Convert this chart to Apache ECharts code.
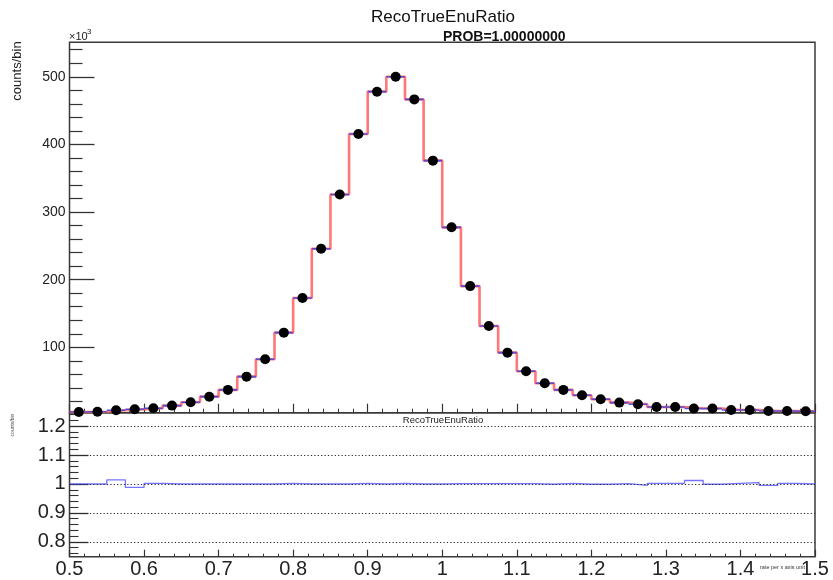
<!DOCTYPE html>
<html><head><meta charset="utf-8">
<script src="https://cdn.jsdelivr.net/npm/echarts@6/dist/echarts.min.js"></script>
<style>html,body{margin:0;padding:0;background:#fff}#c{width:833px;height:580px}</style>
</head><body><div id="c"></div><script>
// ---- data ----
const binStart = 0.5;
const binWidth = 0.025;
// counts per bin, in units of 10^3
const counts = [4.4,4.6,6.9,8.4,9.9,13.8,18.7,27,37,56.6,82.3,121.7,173,245.8,326,415.4,478,500,466.6,376,
                277.4,190.5,131.6,92.1,64.6,46.8,37,29.1,23.2,18.2,15.8,11.8,11.8,9.4,9.4,7.4,7.4,5.9,5.9,5.5];
// ratio per bin
const ratio = [1.0,1.0,1.014,0.988,1.002,1.0,1.0,1.0,1.0,1.0,1.0,1.002,1.0,1.0,1.0,1.002,1.0,1.002,1.0,1.0,
               1.001,1.001,1.001,1.001,1.001,0.999,1.002,0.999,0.999,1.001,0.995,1.002,1.002,1.012,0.999,1.002,1.005,0.995,1.002,1.0];
const topMajorTicks = [100,200,300,400,500];
const ratioMajorTicks = [0.8,0.9,1,1.1,1.2];
const ratioGridLines = [0.8,0.9,1,1.1,1.2];

const FONT = '"Liberation Sans", Arial, Helvetica, sans-serif';
const edges = counts.map((v,i)=>+(binStart + i*binWidth).toFixed(4));
const lastEdge = +(binStart + counts.length*binWidth).toFixed(4);
const stepData = counts.map((v,i)=>[edges[i], v]).concat([[lastEdge, counts[counts.length-1]]]);
const segData = counts.map((v,i)=>[edges[i], +(edges[i]+binWidth).toFixed(4), v]);
const dotData = counts.map((v,i)=>[+(edges[i]+binWidth/2).toFixed(4), v]);
const ratioStep = ratio.map((v,i)=>[edges[i], v]).concat([[lastEdge, ratio[ratio.length-1]]]);

const topMinor = [];
for (let v = 20; v <= 550; v += 20) if (v % 100 !== 0) topMinor.push(v);
const ratioMinor = [];
for (let k = 76; k <= 124; k += 2) if (k % 10 !== 0) ratioMinor.push(k/100);

const chart = echarts.init(document.getElementById('c'), null, {renderer:'canvas'});
const axisCol = '#333';
const L = 69.5, W = 745.5;
chart.setOption({
  animation:false,
  backgroundColor:'#fff',
  grid:[
    {left:L, top:42.3, width:W, height:370.4, show:true, borderColor:'#3a3a3a', borderWidth:1.5, backgroundColor:'transparent'},
    {left:L, top:412.7, width:W, height:144, show:true, borderColor:'#3a3a3a', borderWidth:1.5, backgroundColor:'transparent'}
  ],
  xAxis:[
    {gridIndex:0, type:'value', min:0.5, max:1.5, interval:0.1,
     axisLine:{show:false}, axisLabel:{show:false}, splitLine:{show:false},
     axisTick:{show:true, inside:true, length:9, lineStyle:{color:axisCol, width:1.2}},
     minorTick:{show:true, splitNumber:5, length:4, lineStyle:{color:axisCol, width:1}}},
    {gridIndex:1, type:'value', min:0.5, max:1.5, interval:0.1,
     axisLine:{show:false}, splitLine:{show:false},
     axisLabel:{show:true, fontSize:20, color:'#222', fontFamily:FONT, margin:3, showMinLabel:true, showMaxLabel:true},
     axisTick:{show:true, inside:true, length:7, lineStyle:{color:axisCol, width:1.2}},
     minorTick:{show:true, splitNumber:5, length:3, lineStyle:{color:axisCol, width:1}}}
  ],
  yAxis:[
    {gridIndex:0, type:'value', min:3.3, max:551, position:'left',
     axisLine:{show:false}, splitLine:{show:false},
     axisLabel:{show:true, customValues:topMajorTicks, fontSize:14, color:'#222', fontFamily:FONT, margin:4},
     axisTick:{show:true, inside:true, length:25, customValues:topMajorTicks, lineStyle:{color:axisCol, width:1.3}}},
    {gridIndex:0, type:'value', min:3.3, max:551, position:'left', offset:0,
     axisLine:{show:false}, splitLine:{show:false}, axisLabel:{show:false},
     axisTick:{show:true, inside:true, length:13, customValues:topMinor, lineStyle:{color:axisCol, width:1.2}}},
    {gridIndex:1, type:'value', min:0.749, max:1.246, position:'left',
     axisLine:{show:false}, splitLine:{show:false},
     axisLabel:{show:true, customValues:ratioMajorTicks, fontSize:20, color:'#222', fontFamily:FONT, margin:4},
     axisTick:{show:true, inside:true, length:19, customValues:ratioMajorTicks, lineStyle:{color:axisCol, width:1.3}}},
    {gridIndex:1, type:'value', min:0.749, max:1.246, position:'left', offset:0,
     axisLine:{show:false}, splitLine:{show:false}, axisLabel:{show:false},
     axisTick:{show:true, inside:true, length:9, customValues:ratioMinor, lineStyle:{color:axisCol, width:1.1}}}
  ],
  series:[
    {type:'line', name:'hist', xAxisIndex:0, yAxisIndex:0, step:'end', data:stepData, symbol:'none',
     lineStyle:{color:'rgba(255,95,95,0.85)', width:2.6}, z:2, clip:true},
    {type:'custom', name:'blue', xAxisIndex:0, yAxisIndex:0, data:segData, encode:{x:[0,1], y:2}, z:3, clip:true,
     renderItem:function(params, api){
       const p1 = api.coord([api.value(0), api.value(2)]);
       const p2 = api.coord([api.value(1), api.value(2)]);
       return {type:'line', shape:{x1:p1[0], y1:p1[1], x2:p2[0], y2:p2[1]},
               style:{stroke:'rgba(70,70,225,0.9)', lineWidth:1.6}};
     }},
    {type:'scatter', name:'data', xAxisIndex:0, yAxisIndex:0, data:dotData, symbol:'circle', symbolSize:10,
     itemStyle:{color:'#000', opacity:1}, z:4, clip:true},
    {type:'line', name:'gridlines', xAxisIndex:1, yAxisIndex:2, data:[[0.5,1]], symbol:'none',
     lineStyle:{opacity:0}, z:1, silent:true,
     markLine:{silent:true, symbol:'none', label:{show:false},
       lineStyle:{color:'#222', type:[1.2,2.2], width:1.2},
       data:ratioGridLines.map(v=>({yAxis:v}))}},
    {type:'line', name:'ratio', xAxisIndex:1, yAxisIndex:2, step:'end', data:ratioStep, symbol:'none',
     lineStyle:{color:'rgba(80,80,255,0.8)', width:1.3}, z:3, clip:true}
  ],
  graphic:[
    {type:'text', x:443, y:17, style:{text:'RecoTrueEnuRatio', font:'17px '+FONT, fill:'#111', textAlign:'center', textVerticalAlign:'middle'}},
    {type:'text', x:443, y:37, style:{text:'PROB=1.00000000', font:'bold 14px '+FONT, fill:'#111', textAlign:'left', textVerticalAlign:'middle'}},
    {type:'text', x:69, y:37, style:{text:'\u00d710', font:'11px '+FONT, fill:'#222', textAlign:'left', textVerticalAlign:'middle'}},
    {type:'text', x:87, y:32, style:{text:'3', font:'8px '+FONT, fill:'#222', textAlign:'left', textVerticalAlign:'middle'}},
    {type:'text', x:17, y:71, rotation:Math.PI/2, style:{text:'counts/bin', font:'13px '+FONT, fill:'#222', textAlign:'center', textVerticalAlign:'middle'}},
    {type:'text', x:443, y:420, style:{text:'RecoTrueEnuRatio', font:'9.5px '+FONT, fill:'#222', textAlign:'center', textVerticalAlign:'middle'}},
    {type:'text', x:760, y:567, style:{text:'rate per x axis unit', font:'5.5px '+FONT, fill:'#333', textAlign:'left', textVerticalAlign:'middle'}},
    {type:'text', x:13, y:425, rotation:Math.PI/2, style:{text:'counts/bin', font:'5px '+FONT, fill:'#555', textAlign:'center', textVerticalAlign:'middle'}}
  ]
});
</script></body></html>
